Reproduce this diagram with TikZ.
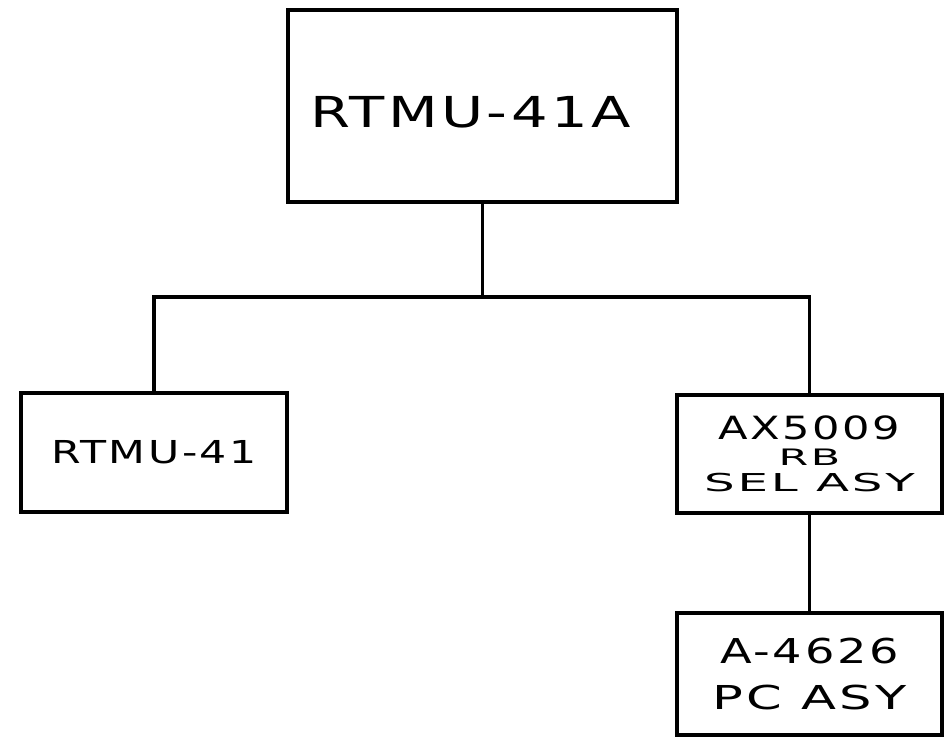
\documentclass[tikz,border=0pt]{standalone}
\usepackage{fontspec}
\usepackage{graphicx}
\usepackage{tikz}
\newfontfamily\letterfont[FakeStretch=1.35,LetterSpace=8]{DejaVu Sans}

\tikzset{
  unit/.style={draw, line width=3pt, inner sep=0pt, align=center},
  link/.style={line width=2.8pt},
}

\begin{document}
\begin{tikzpicture}[x=0.75pt,y=0.75pt,yscale=-1,xscale=1]
\useasboundingbox[fill=white] (0,0) rectangle (947,739);

%Shape: Rectangle top unit
\node [unit, minimum width=291.75pt, minimum height=144pt, font={\letterfont\fontsize{32}{36}\selectfont}] (rtmua) at (482.5,106) {\hspace*{-18pt}RTMU-41A\rule{0pt}{33pt}};
%Shape: Rectangle left unit
\node [unit, minimum width=199.5pt, minimum height=89.25pt, font={\letterfont\fontsize{23.7}{28}\selectfont}] (rtmu) at (154,452.5) {RTMU-41};
%Shape: Rectangle right unit
\node [unit, minimum width=198.75pt, minimum height=88.5pt, font={\letterfont\fontsize{18.5}{19.5}\selectfont}] (ax) at (809.5,454) {{\fontsize{24}{19.5}\selectfont AX5009}\\{\fontsize{17}{19.5}\selectfont\scalebox{1.4}[1]{RB}}\\\scalebox{1.45}[1]{SEL ASY}};
%Shape: Rectangle bottom unit
\node [unit, minimum width=198.75pt, minimum height=91.5pt, font={\letterfont\fontsize{24.7}{35}\selectfont}] (pc) at (809.5,674) {{\fontsize{25.7}{35}\selectfont A-4626}\\\scalebox{1.15}[1]{PC ASY}};

%Straight Lines
\coordinate (bus) at (480,297);
\draw [link] (rtmua.south) -- (rtmua.south |- bus);
\draw [link] (rtmu.north) |- (bus) -| (ax.north);
\draw [link] (ax.south) -- (pc.north);

\end{tikzpicture}
\end{document}
